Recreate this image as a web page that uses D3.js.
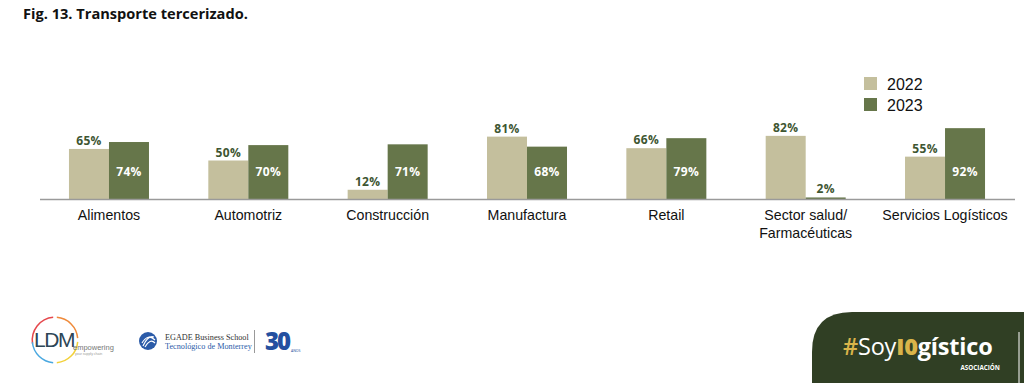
<!DOCTYPE html>
<html>
<head>
<meta charset="utf-8">
<script src="https://cdn.jsdelivr.net/npm/d3@7"></script>
<style>
  html, body { margin: 0; padding: 0; background: #ffffff; }
  svg { display: block; }
</style>
</head>
<body>
<svg id="chart" width="1024" height="383"></svg>
<script>
// ---- data ----
const categories = [
  ["Alimentos"],
  ["Automotriz"],
  ["Construcción"],
  ["Manufactura"],
  ["Retail"],
  ["Sector salud/", "Farmacéuticas"],
  ["Servicios Logísticos"]
];
const seriesNames = ["2022", "2023"];
const values2022 = [65, 50, 12, 81, 66, 82, 55];
const values2023 = [74, 70, 71, 68, 79, 2, 92];
const titleText = "Fig. 13. Transporte tercerizado.";

// ---- styles ----
const colors = { "2022": "#c4bf9d", "2023": "#66764a" };
const labelDark = "#3e5632";

const svg = d3.select("#chart");
const baseline = 199;

const catKeys = categories.map(c => c.join(" "));
const pIn = 59.33 / 139.33;
const x = d3.scaleBand().domain(catKeys).range([39.3, 1014.7])
  .paddingInner(pIn).paddingOuter(pIn / 2);
const xs = d3.scaleBand().domain(seriesNames).range([0, x.bandwidth()]);
const y = d3.scaleLinear().domain([0, 100]).range([baseline, 122]);

// title
svg.append("text")
  .attr("x", 23).attr("y", 19)
  .attr("font-family", "'Open Sans', sans-serif")
  .attr("font-weight", 700).attr("font-size", 14.6)
  .attr("fill", "#111")
  .text(titleText);

const data = catKeys.map((k, i) => ({ key: k, lines: categories[i], v: { "2022": values2022[i], "2023": values2023[i] } }));

const groups = svg.append("g").selectAll("g").data(data).join("g")
  .attr("transform", d => `translate(${x(d.key)},0)`);

groups.selectAll("rect").data(d => seriesNames.map(s => ({ s, v: d.v[s] }))).join("rect")
  .attr("x", d => xs(d.s)).attr("width", xs.bandwidth())
  .attr("y", d => y(d.v)).attr("height", d => baseline - y(d.v))
  .attr("fill", d => colors[d.s]);

// axis line
svg.append("line")
  .attr("x1", 40).attr("x2", 1015)
  .attr("y1", baseline + 0.5).attr("y2", baseline + 0.5)
  .attr("stroke", "#9a9a9a").attr("stroke-width", 1.5);

// value labels
groups.selectAll("text.val").data(d => seriesNames.map(s => ({ s, v: d.v[s] }))).join("text")
  .attr("class", "val")
  .attr("x", d => xs(d.s) + xs.bandwidth() / 2)
  .attr("y", d => {
    if (d.s === "2022" || baseline - y(d.v) < 20) return y(d.v) - 4;
    return baseline - 23;
  })
  .attr("text-anchor", "middle")
  .attr("font-family", "'Open Sans', sans-serif")
  .attr("font-weight", 700).attr("font-size", 12)
  .attr("letter-spacing", 0.3)
  .attr("fill", d => (d.s === "2023" && baseline - y(d.v) >= 20) ? "#ffffff" : labelDark)
  .text(d => d.v + "%");

// category labels
const xAxis = d3.axisBottom(x).tickSize(0).tickPadding(0).tickFormat(() => "");
const axG = svg.append("g").attr("transform", `translate(0,${baseline})`).call(xAxis);
axG.select(".domain").remove();
axG.selectAll(".tick").each(function(k, i) {
  const t = d3.select(this).append("text")
    .attr("text-anchor", "middle")
    .attr("font-family", "'Liberation Sans', Arial, sans-serif")
    .attr("font-size", 14.2).attr("fill", "#111");
  categories[i].forEach((ln, j) => {
    t.append("tspan").attr("x", 0).attr("y", 21 + j * 18).text(ln);
  });
});

// legend
const leg = svg.append("g").attr("transform", "translate(864,77)");
seriesNames.forEach((s, i) => {
  leg.append("rect").attr("x", 0).attr("y", i * 21).attr("width", 13).attr("height", 13).attr("fill", colors[s]);
  leg.append("text").attr("x", 23).attr("y", i * 21 + 12.5)
    .attr("font-family", "'Liberation Sans', Arial, sans-serif")
    .attr("font-size", 16).attr("fill", "#111").text(s);
});

// ---- footer logos ----
// LDM logo
const ldm = svg.append("g").attr("transform", "translate(55,340)");
const arc = d3.arc().innerRadius(22).outerRadius(23.5);
const arcs = [
  { a0: -Math.PI * 0.05 - Math.PI / 2, a1: -0.08, c: "#e5484d" },
  { a0: 0.08, a1: Math.PI / 2 - 0.08, c: "#ef8a3a" },
  { a0: Math.PI / 2 + 0.08, a1: Math.PI - 0.08, c: "#f2d13a" },
  { a0: Math.PI + 0.08, a1: Math.PI * 1.5 - 0.1, c: "#4aa8e0" }
];
arcs.forEach(a => ldm.append("path").attr("d", arc({ startAngle: a.a0, endAngle: a.a1 })).attr("fill", a.c));
ldm.append("text").attr("x", -1).attr("y", 7).attr("text-anchor", "middle")
  .attr("font-family", "'Liberation Sans', Arial, sans-serif").attr("font-size", 21).attr("letter-spacing", -1.5)
  .attr("fill", "#2d4656").text("LDM");
ldm.append("text").attr("x", 18).attr("y", 10)
  .attr("font-family", "'Liberation Sans', Arial, sans-serif").attr("font-size", 7.5)
  .attr("fill", "#777").text("empowering");
ldm.append("text").attr("x", 20).attr("y", 15)
  .attr("font-family", "'Liberation Sans', Arial, sans-serif").attr("font-size", 3.5)
  .attr("fill", "#999").text("your supply chain");

// EGADE logo
const eg = svg.append("g").attr("transform", "translate(148,341)");
eg.append("circle").attr("r", 9).attr("fill", "#2b5ba8");
eg.append("path").attr("d", "M-5,5 Q0,-6 6,-4 M-6,2 Q0,-8 7,-1 M-3,6 Q2,-3 7,2").attr("stroke", "#fff").attr("stroke-width", 1.2).attr("fill", "none");
eg.append("text").attr("x", 17).attr("y", -1)
  .attr("font-family", "'Liberation Serif', serif").attr("font-size", 8.2)
  .attr("fill", "#333").text("EGADE Business School");
eg.append("text").attr("x", 17).attr("y", 8)
  .attr("font-family", "'Liberation Serif', serif").attr("font-size", 8.2)
  .attr("fill", "#2b5ba8").text("Tecnológico de Monterrey");
svg.append("line").attr("x1", 254.5).attr("x2", 254.5).attr("y1", 330).attr("y2", 353)
  .attr("stroke", "#999").attr("stroke-width", 1);
svg.append("text").attr("x", 265).attr("y", 350)
  .attr("font-family", "'Open Sans', sans-serif").attr("font-weight", 800).attr("font-size", 24)
  .attr("letter-spacing", -2).attr("fill", "#2450a0").text("30");
svg.append("text").attr("x", 291).attr("y", 352)
  .attr("font-family", "'Open Sans', sans-serif").attr("font-size", 3.5)
  .attr("fill", "#2450a0").text("AÑOS");

// #SoyI0gístico panel
svg.append("path")
  .attr("d", "M812,383 L812,352 Q812,312 852,312 L1024,312 L1024,383 Z")
  .attr("fill", "#303f24");
const soy = svg.append("text").attr("x", 843).attr("y", 355)
  .attr("font-family", "'Open Sans', sans-serif").attr("font-size", 23.5).attr("letter-spacing", -0.2);
soy.append("tspan").attr("fill", "#d9b44a").attr("font-weight", 600).text("#");
soy.append("tspan").attr("fill", "#ffffff").attr("font-weight", 400).text("Soy");
soy.append("tspan").attr("fill", "#d9b44a").attr("font-weight", 800).text("I0");
soy.append("tspan").attr("fill", "#ffffff").attr("font-weight", 700).text("gístico");
svg.append("text").attr("x", 1000).attr("y", 370).attr("text-anchor", "end")
  .attr("font-family", "'Open Sans', sans-serif").attr("font-weight", 700).attr("font-size", 6.3)
  .attr("fill", "#ffffff").text("ASOCIACIÓN");
svg.append("line").attr("x1", 1019).attr("x2", 1019).attr("y1", 332).attr("y2", 383)
  .attr("stroke", "#ffffff").attr("stroke-width", 1);
</script>
</body>
</html>
